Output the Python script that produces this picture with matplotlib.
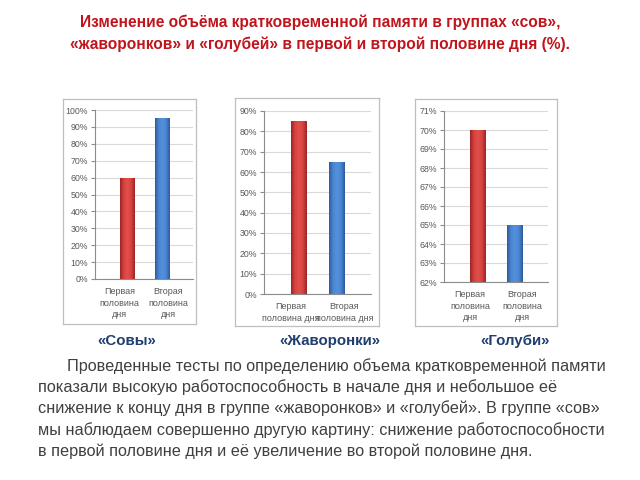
import numpy as np
import matplotlib
matplotlib.use("Agg")
import matplotlib.pyplot as plt
from matplotlib.colors import LinearSegmentedColormap
from matplotlib.ticker import FuncFormatter, MultipleLocator

# ---- data ----
title_lines = ["Изменение объёма кратковременной памяти в группах «сов»,",
               "«жаворонков» и «голубей» в первой и второй половине дня (%)."]
categories = ["Первая\nполовина\nдня", "Вторая\nполовина\nдня"]
categories_mid = ["Первая\nполовина дня", "Вторая\nполовина дня"]
groups = ["«Совы»", "«Жаворонки»", "«Голуби»"]
owls = [60, 95]
larks = [85, 65]
doves = [70, 65]
ylims = [(0, 100), (0, 90), (62, 71)]
ysteps = [10, 10, 1]
body_lines = [
    "Проведенные тесты по определению объема кратковременной памяти",
    "показали высокую работоспособность в начале дня и небольшое её",
    "снижение к концу дня в группе «жаворонков» и «голубей». В группе «сов»",
    "мы наблюдаем совершенно другую картину: снижение работоспособности",
    "в первой половине дня и её увеличение во второй половине дня.",
]

plt.rcParams['font.family'] = ['Liberation Sans', 'DejaVu Sans']

fig = plt.figure(figsize=(6.4, 4.8), dpi=100)
W, H = 640, 480

def fr(l, t, r, b):
    return [l / W, (H - b) / H, (r - l) / W, (b - t) / H]

red_cmap = LinearSegmentedColormap.from_list("r", ["#9a2624", "#d8423f", "#e0504b", "#d8423f", "#9a2624"])
blue_cmap = LinearSegmentedColormap.from_list("b", ["#2c5a9c", "#4a86d2", "#5590dc", "#4a86d2", "#2c5a9c"])

boxes = [(63, 99, 196, 324), (235, 98, 379, 326), (415, 99, 557, 326)]
axes_px = [(95, 110, 193, 279), (264, 111, 371, 294), (444, 111, 548, 282)]
datasets = [owls, larks, doves]
cat_sets = [categories, categories_mid, categories]
offsets = np.array([0.15, -0.14])
width = 0.29

for box, apx, data, yl, st, cats in zip(boxes, axes_px, datasets, ylims, ysteps, cat_sets):
    # frame
    bax = fig.add_axes(fr(*box))
    bax.set_xticks([]); bax.set_yticks([])
    for s in bax.spines.values():
        s.set_color("#bfbfbf"); s.set_linewidth(0.9)
    bax.set_zorder(0)

    ax = fig.add_axes(fr(*apx))
    ax.set_zorder(1)
    ax.patch.set_alpha(0)
    ax.yaxis.set_major_locator(MultipleLocator(st))
    ax.yaxis.set_major_formatter(FuncFormatter(lambda v, p: f"{v:.0f}%"))
    ax.grid(axis="y", color="#d9d9d9", linewidth=0.8)
    ax.set_axisbelow(True)
    for s in ["top", "right"]:
        ax.spines[s].set_visible(False)
    for s in ["left", "bottom"]:
        ax.spines[s].set_color("#8c8c8c")
        ax.spines[s].set_linewidth(0.8)
    ax.tick_params(axis="y", labelsize=6.3, colors="#8c8c8c", labelcolor="#595959",
                   length=3, width=0.8, pad=2)
    ax.tick_params(axis="x", length=0, labelsize=6.5, labelcolor="#595959", pad=6)
    ax.set_xticks([0, 1])
    ax.set_xticklabels(cats, linespacing=1.35)
    base = yl[0]
    xs = np.arange(len(data)) + offsets
    heights = np.array(data) - base
    bars = ax.bar(xs, heights, width=width, bottom=base, color="none", edgecolor="none")
    grad = np.linspace(0, 1, 64).reshape(1, -1)
    for b, cmap in zip(bars, [red_cmap, blue_cmap]):
        x0, y0 = b.get_x(), b.get_y()
        im = ax.imshow(grad, cmap=cmap, aspect="auto",
                       extent=[x0, x0 + b.get_width(), y0, y0 + b.get_height()], zorder=2)
        im.set_clip_path(b)
    ax.set_xlim(-0.5, 1.5)
    ax.set_ylim(*yl)

# title
for i, line in enumerate(title_lines):
    fig.text(0.5, 1 - (22 + i * 22) / H, line, ha="center", va="center",
             fontsize=11.2, fontweight="bold", color="#c0151d")

# group labels
for g, x in zip(groups, [127, 330, 515]):
    fig.text(x / W, 1 - 341 / H, g, ha="center", va="center",
             fontsize=10.8, fontweight="bold", color="#1f3f6e")

# body
for i, line in enumerate(body_lines):
    x = 67 if i == 0 else 38
    fig.text(x / W, 1 - (366 + i * 21.2) / H, line, ha="left", va="center",
             fontsize=11.7, color="#404040")

fig.savefig("out.png", dpi=100, facecolor="white")
